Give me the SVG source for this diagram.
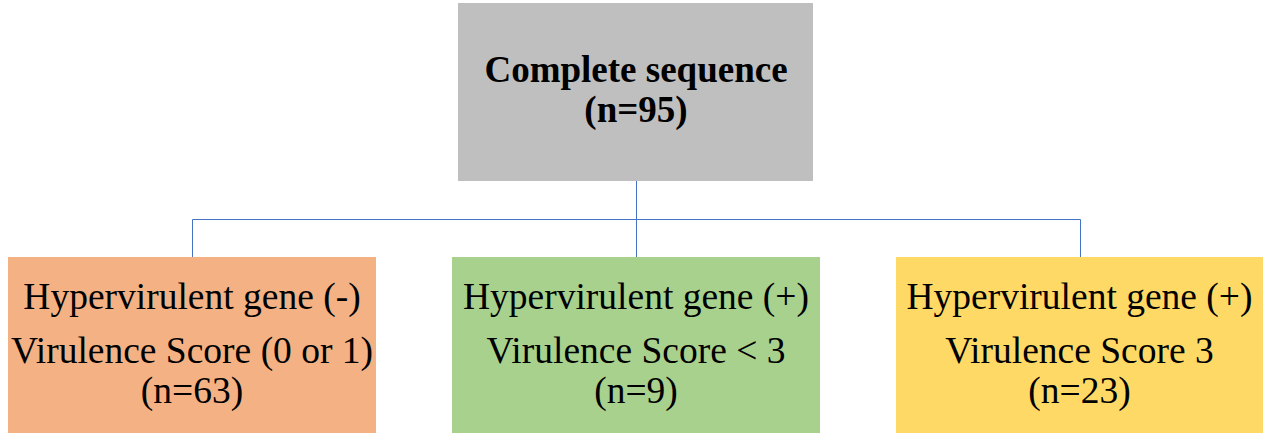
<svg xmlns="http://www.w3.org/2000/svg" width="1263" height="433" viewBox="0 0 1263 433">
<style>
.t{font-family:"Liberation Serif","Times New Roman",serif;font-size:37.5px;fill:#000;text-anchor:middle}
.b{font-weight:bold;font-size:37px}
.c{stroke:#4472C4;stroke-width:1;fill:none}
</style>
<rect width="1263" height="433" fill="#fff"/>
<g id="connectors">
<path class="c" d="M636.5 181V257M192.5 219.5H1080.5M192.5 219.5V257M1080.5 219.5V257"/>
</g>
<g id="root">
<rect x="458" y="3" width="355" height="178" fill="#BFBFBF"/>
<text class="t b" x="636" y="82">Complete sequence</text>
<text class="t b" x="636" y="122">(n=95)</text>
</g>
<g id="neg">
<rect x="8" y="257" width="368" height="176" fill="#F4B183"/>
<text class="t" x="192" y="309">Hypervirulent gene (-)</text>
<text class="t" x="192" y="363">Virulence Score (0 or 1)</text>
<text class="t" x="192" y="403">(n=63)</text>
</g>
<g id="lt3">
<rect x="452" y="257" width="368" height="176" fill="#A9D18E"/>
<text class="t" x="636" y="309">Hypervirulent gene (+)</text>
<text class="t" x="636" y="363">Virulence Score &lt; 3</text>
<text class="t" x="636" y="403">(n=9)</text>
</g>
<g id="eq3">
<rect x="896" y="257" width="367" height="176" fill="#FFD966"/>
<text class="t" x="1079.5" y="309">Hypervirulent gene (+)</text>
<text class="t" x="1079.5" y="363">Virulence Score 3</text>
<text class="t" x="1079.5" y="403">(n=23)</text>
</g>
</svg>
